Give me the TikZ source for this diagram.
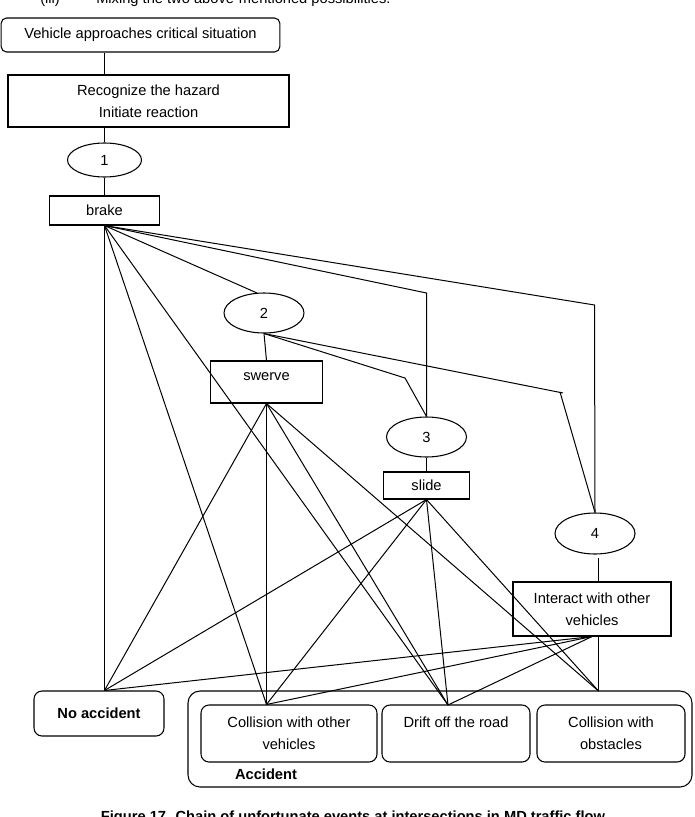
\documentclass[tikz,border=0pt]{standalone}
\usepackage{fontspec}
\setmainfont{Liberation Sans}
\usetikzlibrary{shapes.geometric}

\begin{document}
\begin{tikzpicture}[x=0.75pt,y=-0.75pt,
  every node/.style={font=\fontsize{11}{16.5}\selectfont, inner sep=0pt, align=center},
  box/.style={draw, line width=0.8pt},
  rbox/.style={draw, line width=0.8pt, rounded corners=#1},
  rbox/.default=6pt,
  oval/.style={draw, ellipse, line width=0.8pt, minimum width=60pt, minimum height=30pt},
  link/.style={line width=0.75pt}]

\useasboundingbox (0,0) rectangle (694,817);
\clip (0,0) rectangle (694,817);

% --- text around the figure ---
\node[anchor=base west] (item) at (40,4) {(iii)};
\node[anchor=base west] (itemtext) at (96,4) {Mixing the two above-mentioned possibilities.};
\node[anchor=base] (caption) at (353,821.5) {\textbf{Figure 17. Chain of unfortunate events at intersections in MD traffic flow}};

% --- top of the chain ---
\node[rbox=4pt, minimum width=209pt, minimum height=25.5pt] (start) at (140.5,35) {Vehicle approaches critical situation};
\node[box, minimum width=210.75pt, minimum height=39pt] (recog) at (148.5,101) {Recognize the hazard\\Initiate reaction};
\node[oval, minimum width=55.5pt, minimum height=25.5pt] (e1) at (104.5,160) {1};
\node[box, minimum width=82.5pt, minimum height=21.75pt] (brake) at (104.5,210.5) {brake};

% --- branches ---
\node[oval] (e2) at (264,313) {2};
\node[box, minimum width=84pt, minimum height=31.5pt, text depth=7.5pt] (swerve) at (266.5,382) {swerve};
\node[oval] (e3) at (426.5,437) {3};
\node[box, minimum width=64.5pt, minimum height=20.25pt] (slide) at (426.5,485.5) {slide};
\node[oval, minimum height=30.75pt] (e4) at (595,533.5) {4};
\node[box, minimum width=118.5pt, minimum height=40.5pt] (interact) at (592,609) {Interact with other\\vehicles};

% --- outcomes ---
\node[rbox, minimum width=97.5pt, minimum height=33.75pt] (noacc) at (99,713.5) {\textbf{No accident}};
\node[rbox=9pt, minimum width=378pt, minimum height=72pt] (accident) at (440,739) {};
\node[rbox, minimum width=132pt, minimum height=42.75pt] (colveh) at (289,733.5) {Collision with other\\vehicles};
\node[rbox, minimum width=111pt, minimum height=42.75pt] (drift) at (456,733.5) {Drift off the road\\\phantom{vehicles}};
\node[rbox, minimum width=111pt, minimum height=42.75pt] (obst) at (611,733.5) {Collision with\\obstacles};
\node (acclabel) at (266,774) {\textbf{Accident}};

% entry points of the outcomes
\coordinate (na) at (brake.south |- noacc.north);
\coordinate (cv) at (swerve.south |- colveh.north);
\coordinate (dr) at (448,705);
\coordinate (ob) at (598.5,691);

% connectors
\draw[link] (start.south -| e1) -- (recog.north -| e1);
\draw[link] (recog.south -| e1) -- (e1.north);
\draw[link] (e1.south) -- (brake.north);

\foreach \dst in {na,cv,dr}{
  \draw[link] (brake.south) -- (\dst);
}
\draw[link] (brake.south) -- (257,293);
\draw[link] (brake.south) -- (e3.north |- 257,293) -- (e3.north);
\draw[link] (brake.south) -- (594.5,305) -- (e4.north);

\draw[link] (e2.south) -- (swerve.north);
\draw[link] (e2.south) -- (405,378) -- (e3.north);
\draw[link] (e2.south) -- (563,393);
\draw[link] (560,392) -- (e4.north);
\draw[link] (e3.south) -- (slide.north);
\draw[link] (598.5,558) -- (interact.north -| 598.5,0);

\foreach \src in {swerve,slide,interact}{
  \foreach \dst in {na,cv,dr}{
    \draw[link] (\src.south) -- (\dst);
  }
}
\draw[link] (swerve.south) -- (ob);
\draw[link] (slide.south) -- (ob);
\draw[link] (interact.south -| ob) -- (ob);

\end{tikzpicture}
\end{document}
